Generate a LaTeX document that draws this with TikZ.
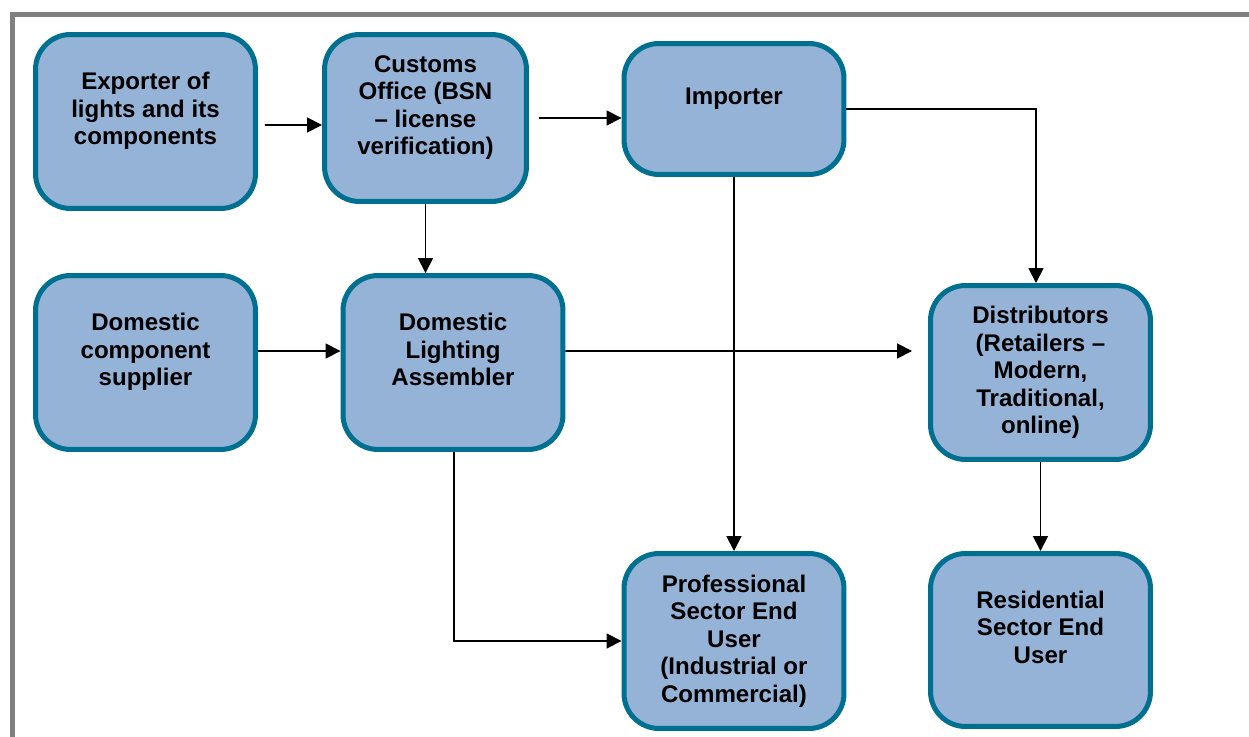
\documentclass[tikz,border=0pt]{standalone}
\usepackage{fontspec}
\setmainfont{Liberation Sans}
\usepackage{xcolor}
\usepackage{tikz}
\usetikzlibrary{arrows.meta}

\definecolor{boxfill}{RGB}{149,179,215}
\definecolor{boxline}{RGB}{0,112,145}
\definecolor{framegray}{RGB}{128,128,128}

\tikzset{
  box/.style={draw=boxline, fill=boxfill, line width=0.1cm, rounded corners=0.7cm,
    align=center, inner sep=0pt, minimum width=4.4cm, minimum height=3.48cm,
    font=\fontsize{13.7}{15.7}\selectfont\bfseries},
  lifted/.style={execute at end node={\rule[-0.52cm]{0pt}{0pt}}},
  flow/.style={-{Triangle[length=0.3cm,width=0.3cm]}, line width=0.036cm, black}
}

\begin{document}
\begin{tikzpicture}[x=0.02cm, y=-0.02cm]

\useasboundingbox (0,0) rectangle (1249,737);
\draw[framegray, line width=0.1cm] (12.5,745) -- (12.5,14.5) -- (1260,14.5);

% top row
\node[box, lifted] (exporter) at (145.5,121.5) {Exporter of\\lights and its\\components};
\node[box, lifted, minimum width=4.04cm, minimum height=3.34cm] (customs) at (425.5,118) {Customs\\Office (BSN\\– license\\verification)};
\node[box, lifted, minimum height=2.62cm] (importer) at (734,109) {Importer};

% middle row
\node[box, lifted] (supplier) at (145.5,362.5) {Domestic\\component\\supplier};
\node[box, lifted] (assembler) at (453,362.5) {Domestic\\Lighting\\Assembler};
\node[box] (distrib) at (1040.5,372.5) {Distributors\\(Retailers –\\Modern,\\Traditional,\\online)};

% bottom row
\node[box, minimum height=3.5cm] (prof) at (734,641) {Professional\\Sector End\\User\\(Industrial or\\Commercial)};
\node[box, lifted, minimum height=3.46cm] (resid) at (1040.5,640) {Residential\\Sector End\\User};

% connectors
\draw[flow] ([shift={(7,3.5)}]exporter.east) -- (customs.west |- 0,125);
\draw[flow] ([xshift=0.2cm]customs.east) -- (importer.west |- customs.east);
\draw[flow] (customs.south) -- (customs.south |- assembler.north);
\draw[flow] (importer.east) -| ([xshift=-0.09cm]distrib.north);
\draw[flow] (importer.south) -- (prof.north);
\draw[flow] ([yshift=0.23cm]supplier.east) -- ([yshift=0.23cm]assembler.west);
\draw[flow, shorten >=0.32cm] ([yshift=0.23cm]assembler.east) -- (distrib.west |- 0,351);
\draw[flow] ([xshift=0.02cm]assembler.south) |- (prof.west);
\draw[flow] (distrib.south) -- (resid.north);

\end{tikzpicture}
\end{document}
